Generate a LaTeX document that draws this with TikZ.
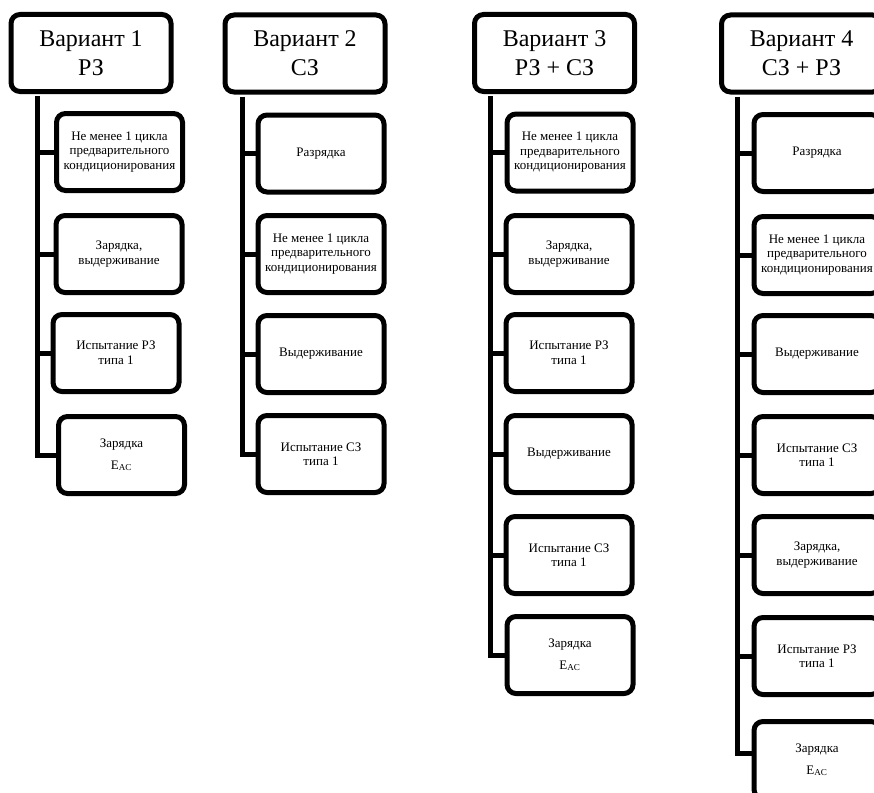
\documentclass[tikz,border=0pt]{standalone}
\usepackage{fontspec}
\setmainfont{Liberation Serif}
\begin{document}
\begin{tikzpicture}[x=1pt,y=-1pt,
  hdr/.style={draw, line width=5pt, rounded corners=9pt, minimum width=160pt, minimum height=77pt, inner sep=0pt, align=center, font=\fontsize{24}{29}\selectfont},
  itm/.style={draw, line width=5pt, rounded corners=9pt, minimum width=126pt, minimum height=77pt, inner sep=0pt, align=center, font=\fontsize{13}{14.5}\selectfont},
  conn/.style={line width=5pt, line join=miter}]
\useasboundingbox (0,0) rectangle (874,792);
\clip (0,0) rectangle (874,792);
% headers
\node[hdr] (h1) at (91,53) {Вариант 1\\РЗ};
\node[hdr] (h2) at (305,53.5) {Вариант 2\\СЗ};
\node[hdr] (h3) at (554.5,53) {Вариант 3\\РЗ + СЗ};
\node[hdr] (h4) at (801.5,53.5) {Вариант 4\\СЗ + РЗ};
% column 1
\node[itm] (b11) at (119.5,152) {Не менее 1 цикла\\предварительного\\кондиционирования};
\node[itm] (b12) at (119,254) {Зарядка,\\выдерживание};
\node[itm] (b13) at (116,353) {Испытание РЗ\\типа 1};
\node[itm] (b14) at (121.5,455) {Зарядка\\[7pt]E\textsubscript{AC}};
% column 2
\node[itm] (b21) at (321,153.5) {Разрядка};
\node[itm] (b22) at (321,254) {Не менее 1 цикла\\предварительного\\кондиционирования};
\node[itm] (b23) at (321,354) {Выдерживание};
\node[itm] (b24) at (321,454) {Испытание СЗ\\типа 1};
% column 3
\node[itm] (b31) at (570,152.5) {Не менее 1 цикла\\предварительного\\кондиционирования};
\node[itm] (b32) at (569,254) {Зарядка,\\выдерживание};
\node[itm] (b33) at (569,353) {Испытание РЗ\\типа 1};
\node[itm] (b34) at (569,454) {Выдерживание};
\node[itm] (b35) at (569,555) {Испытание СЗ\\типа 1};
\node[itm] (b36) at (570,655) {Зарядка\\[7pt]E\textsubscript{AC}};
% column 4
\node[itm] (b41) at (817,153) {Разрядка};
\node[itm] (b42) at (817,255) {Не менее 1 цикла\\предварительного\\кондиционирования};
\node[itm] (b43) at (817,354) {Выдерживание};
\node[itm] (b44) at (817,455) {Испытание СЗ\\типа 1};
\node[itm] (b45) at (817,555) {Зарядка,\\выдерживание};
\node[itm] (b46) at (817,656) {Испытание РЗ\\типа 1};
\node[itm] (b47) at (817,760) {Зарядка\\[7pt]E\textsubscript{AC}};
% trunks
\coordinate (t1) at ([xshift=-54pt,yshift=-2pt]h1.south);
\coordinate (t2) at ([xshift=-63pt,yshift=-2pt]h2.south);
\coordinate (t3) at ([xshift=-64.5pt,yshift=-2pt]h3.south);
\coordinate (t4) at ([xshift=-64.5pt,yshift=-2pt]h4.south);
\draw[conn] (t1) |- (b14.west);
\foreach \b in {b11,b12,b13} \draw[conn] (t1 |- \b.west) -- (\b.west);
\draw[conn] (t2) |- (b24.west);
\foreach \b in {b21,b22,b23} \draw[conn] (t2 |- \b.west) -- (\b.west);
\draw[conn] (t3) |- (b36.west);
\foreach \b in {b31,b32,b33,b34,b35} \draw[conn] (t3 |- \b.west) -- (\b.west);
\draw[conn] (t4) |- ([yshift=7pt]b47.west);
\foreach \b in {b41,b42,b43,b44,b45,b46} \draw[conn] (t4 |- \b.west) -- (\b.west);
\end{tikzpicture}
\end{document}
